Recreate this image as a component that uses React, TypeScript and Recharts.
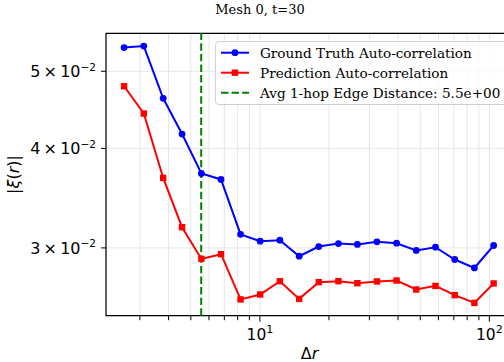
import React from 'react';
import { LineChart, Line, XAxis, YAxis, CartesianGrid, ReferenceLine, ReferenceArea } from 'recharts';

// bin centres (Δr) and the two auto-correlation curves
const distances = [2.56, 3.12, 3.79, 4.58, 5.56, 6.77, 8.24, 10.03, 12.22, 14.83, 18.05, 21.99, 26.6, 32.36, 39.41, 48.02, 58.25, 70.65, 86.04, 104.4];
const groundTruth = [0.05355, 0.05377, 0.04624, 0.0417, 0.0372, 0.03657, 0.0312, 0.03059, 0.03068, 0.02929, 0.03012, 0.03038, 0.0303, 0.03053, 0.03041, 0.02978, 0.03006, 0.02901, 0.02831, 0.03021];
const prediction = [0.04788, 0.04425, 0.03673, 0.03185, 0.02906, 0.02946, 0.02585, 0.02622, 0.02725, 0.02589, 0.02717, 0.02725, 0.02709, 0.02723, 0.0273, 0.0266, 0.02688, 0.02617, 0.02559, 0.02707];

const xTicks = [3, 4, 5, 6, 7, 8, 9, 10, 20, 30, 40, 50, 60, 70, 80, 90, 100];
const yTicks = [0.03, 0.04, 0.05];
const avgEdgeDistance = 5.55;
const xDomain = [2.135, 125.5];
const yDomain = [0.02466, 0.0558];

const legendItems = [
  { label: 'Ground Truth Auto-correlation', color: '#0000ff', marker: 'circle' },
  { label: 'Prediction Auto-correlation', color: '#ff0000', marker: 'square' },
  { label: 'Avg 1-hop Edge Distance: 5.5e+00', color: '#008000', marker: 'dash' },
];

const data = distances.map((d, i) => ({ d, gt: groundTruth[i], pred: prediction[i] }));

const SANS = '"DejaVu Sans", sans-serif';
const SERIF = '"DejaVu Serif", serif';

const XTick = (props: any) => {
  const { x, y, payload } = props;
  const v = payload.value;
  const major = v === 10 || v === 100;
  return (
    <g>
      <line x1={x} x2={x} y1={y} y2={y + (major ? 6 : 4.5)} stroke="#000" strokeWidth={1} />
      {major && (
        <text x={x} y={y + 24} textAnchor="middle" fontFamily={SANS} fontSize={15.5} fill="#000">
          10<tspan dy={-6.5} fontSize={11}>{v === 10 ? '1' : '2'}</tspan>
        </text>
      )}
    </g>
  );
};

const YTick = (props: any) => {
  const { x, y, payload } = props;
  const mant = Math.round(payload.value * 100);
  return (
    <g>
      <line x1={x - 5} x2={x} y1={y} y2={y} stroke="#000" strokeWidth={1} />
      <text x={x - 10} y={y + 5.8} textAnchor="end" fontFamily={SANS} fontSize={16} fill="#000">
        {mant}{'\u2009×\u2009'}10<tspan dy={-6.5} fontSize={10.5}>−2</tspan>
      </text>
    </g>
  );
};

const SquareDot = (props: any) => {
  const { cx, cy, index } = props;
  return <rect key={`sq-${index}`} x={cx - 3.2} y={cy - 3.2} width={6.4} height={6.4} fill="#ff0000" />;
};

const Legend = () => (
  <div
    style={{
      position: 'absolute',
      left: 215,
      top: 41,
      width: 292,
      height: 64,
      boxSizing: 'border-box',
      border: '1px solid #d0d0d0',
      borderRadius: 4,
      background: 'rgba(255,255,255,0.8)',
    }}
  >
    <svg width={292} height={64}>
      {legendItems.map((item, i) => {
        const cy = 10.7 + i * 20;
        return (
          <g key={item.label}>
            {item.marker === 'dash' ? (
              <line x1={5} x2={33} y1={cy} y2={cy} stroke={item.color} strokeWidth={2} strokeDasharray="7.4 3.2" />
            ) : (
              <line x1={5} x2={33} y1={cy} y2={cy} stroke={item.color} strokeWidth={2} />
            )}
            {item.marker === 'circle' && <circle cx={19} cy={cy} r={3.4} fill={item.color} />}
            {item.marker === 'square' && <rect x={15.8} y={cy - 3.2} width={6.4} height={6.4} fill={item.color} />}
            <text x={44} y={cy + 4.8} fontFamily={SERIF} fontSize={13.6} fill="#000">
              {item.label}
            </text>
          </g>
        );
      })}
    </svg>
  </div>
);

export default function App() {
  return (
    <div style={{ position: 'absolute', left: 0, top: 0, width: 504, height: 362, overflow: 'hidden', background: '#fff' }}>
      <div style={{ position: 'absolute', left: 0, top: 2, width: 520, textAlign: 'center', fontFamily: SERIF, fontSize: 13, color: '#000' }}>
        Mesh 0, t=30
      </div>
      <LineChart width={520} height={362} data={data} margin={{ top: 33.3, right: 8, bottom: 0, left: 0 }}>
        <CartesianGrid stroke="#e6e6e6" strokeWidth={1} />
        <XAxis
          dataKey="d"
          type="number"
          scale="log"
          domain={xDomain}
          allowDataOverflow
          ticks={xTicks}
          interval={0}
          tick={<XTick />}
          tickLine={false}
          axisLine={false}
          tickSize={0}
          tickMargin={0}
          height={46.3}
          label={{
            content: () => (
              <text x={309.5} y={359} textAnchor="middle" fontFamily={SANS} fontSize={16} fill="#000">
                Δ<tspan fontStyle="italic">r</tspan>
              </text>
            ),
          }}
        />
        <YAxis
          type="number"
          scale="log"
          domain={yDomain}
          allowDataOverflow
          ticks={yTicks}
          interval={0}
          tick={<YTick />}
          tickLine={false}
          axisLine={false}
          tickSize={0}
          tickMargin={0}
          width={106}
          label={{
            content: () => (
              <text
                x={19}
                y={174.5}
                transform="rotate(-90 19 174.5)"
                textAnchor="middle"
                fontFamily={SANS}
                fontSize={16}
                fill="#000"
              >
                |<tspan fontStyle="italic">ξ</tspan>(<tspan fontStyle="italic">r</tspan>)|
              </text>
            ),
          }}
        />
        <ReferenceLine x={avgEdgeDistance} stroke="#008000" strokeWidth={2} strokeDasharray="7.4 3.2" />
        <Line
          dataKey="gt"
          stroke="#0000ff"
          strokeWidth={2}
          dot={{ r: 3.4, fill: '#0000ff', stroke: '#0000ff', strokeWidth: 0 }}
          isAnimationActive={false}
        />
        <Line dataKey="pred" stroke="#ff0000" strokeWidth={2} dot={<SquareDot />} isAnimationActive={false} />
        <ReferenceArea x1={xDomain[0]} x2={xDomain[1]} y1={yDomain[0]} y2={yDomain[1]} fill="none" stroke="#000" strokeWidth={1.2} />
      </LineChart>
      <Legend />
    </div>
  );
}
